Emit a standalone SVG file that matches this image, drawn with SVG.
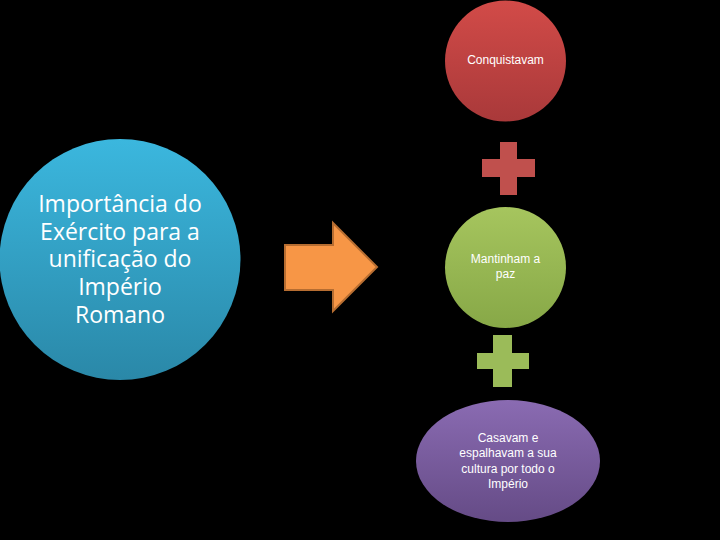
<svg xmlns="http://www.w3.org/2000/svg" width="720" height="540" viewBox="0 0 720 540">
<defs>
<linearGradient id="gBlue" x1="0" y1="0" x2="0" y2="1"><stop offset="0" stop-color="#3bb7de"/><stop offset="1" stop-color="#2a88a8"/></linearGradient>
<linearGradient id="gRed" x1="0" y1="0" x2="0" y2="1"><stop offset="0" stop-color="#d24b48"/><stop offset="1" stop-color="#a9393a"/></linearGradient>
<linearGradient id="gGreen" x1="0" y1="0" x2="0" y2="1"><stop offset="0" stop-color="#a6c55e"/><stop offset="1" stop-color="#87a847"/></linearGradient>
<linearGradient id="gPurple" x1="0" y1="0" x2="0" y2="1"><stop offset="0" stop-color="#8a6bb2"/><stop offset="1" stop-color="#654b86"/></linearGradient>
<style>
.big{font-family:"Open Sans","DejaVu Sans",sans-serif;font-size:23px;fill:#ffffff;text-anchor:middle}
.small{font-family:"Liberation Sans","Arial",sans-serif;font-size:12px;fill:#ffffff;text-anchor:middle}
</style>
</defs>
<rect x="0" y="0" width="720" height="540" fill="#000000"/>
<g id="main">
<circle cx="120" cy="259.5" r="120.5" fill="url(#gBlue)"/>
<text class="big"><tspan x="120" y="212">Importância do</tspan><tspan x="120" y="240">Exército para a</tspan><tspan x="120" y="267">unificação do</tspan><tspan x="120" y="295">Império</tspan><tspan x="120" y="323">Romano</tspan></text>
</g>
<g id="connectors">
<path d="M285,245 H333 V223 L377,267 L333,311 V290 H285 Z" fill="#f79646" stroke="#b66d31" stroke-width="2"/>
<path d="M482,159 H500 V142 H517 V159 H535 V177 H517 V195 H500 V177 H482 Z" fill="#c0504d"/>
<path d="M477,353 H493 V335 H512 V353 H529 V369 H512 V387 H493 V369 H477 Z" fill="#9bbb59"/>
</g>
<g id="conquistavam">
<circle cx="505.5" cy="61" r="60.5" fill="url(#gRed)"/>
<text class="small" x="505.5" y="64">Conquistavam</text>
</g>
<g id="mantinham">
<circle cx="505.5" cy="267.5" r="60.5" fill="url(#gGreen)"/>
<text class="small"><tspan x="505.5" y="263">Mantinham a</tspan><tspan x="505.5" y="278">paz</tspan></text>
</g>
<g id="casavam">
<ellipse cx="508" cy="461" rx="92" ry="61" fill="url(#gPurple)"/>
<text class="small"><tspan x="508" y="442">Casavam e</tspan><tspan x="508" y="457">espalhavam a sua</tspan><tspan x="508" y="473">cultura por todo o</tspan><tspan x="508" y="488">Império</tspan></text>
</g>
</svg>
